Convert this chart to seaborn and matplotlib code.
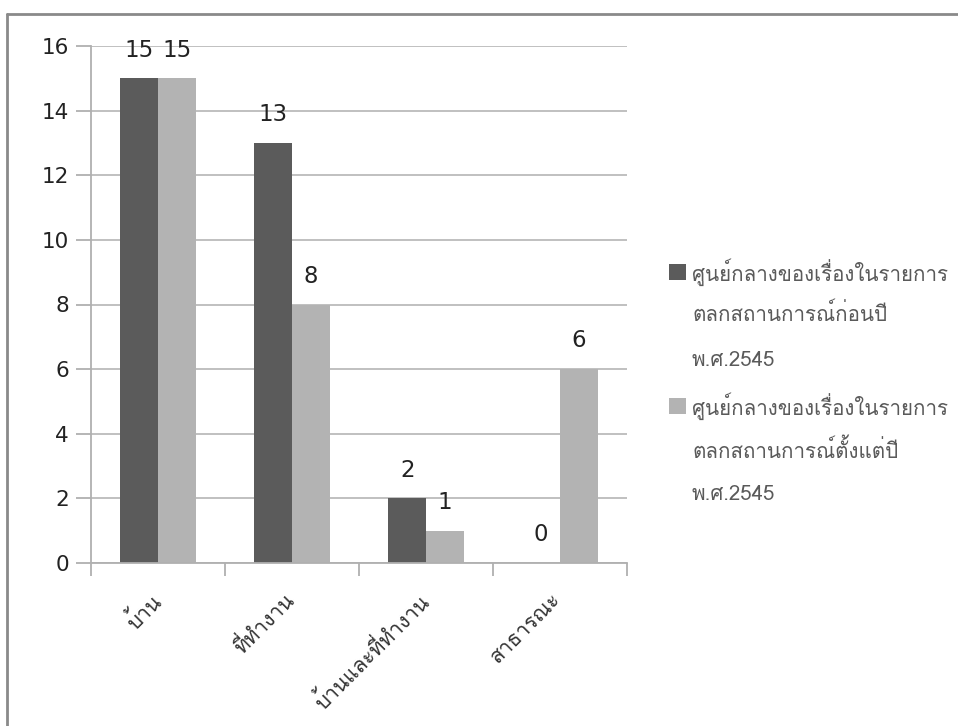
import matplotlib
matplotlib.use("Agg")
import matplotlib.pyplot as plt
from matplotlib import font_manager
from matplotlib.ft2font import FT2Font
from matplotlib.lines import Line2D
from matplotlib.patches import Rectangle
from matplotlib.transforms import ScaledTranslation
import seaborn as sns
import pandas as pd

categories = ["บ้าน", "ที่ทำงาน", "บ้านและที่ทำงาน", "สาธารณะ"]
series_names = [
    "ศูนย์กลางของเรื่องในรายการตลกสถานการณ์ก่อนปี พ.ศ.2545",
    "ศูนย์กลางของเรื่องในรายการตลกสถานการณ์ตั้งแต่ปี พ.ศ.2545",
]
legend_lines = [
    ["ศูนย์กลางของเรื่องในรายการ", "ตลกสถานการณ์ก่อนปี", "พ.ศ.2545"],
    ["ศูนย์กลางของเรื่องในรายการ", "ตลกสถานการณ์ตั้งแต่ปี", "พ.ศ.2545"],
]
before_2545 = [15, 13, 2, 0]
since_2545 = [15, 8, 1, 6]
colors = ["#5b5b5b", "#b3b3b3"]
y_ticks = [0, 2, 4, 6, 8, 10, 12, 14, 16]


def find_thai_font():
    for f in font_manager.fontManager.ttflist:
        try:
            ft = FT2Font(f.fname)
            if ft.get_char_index(0x0E01) and ft.get_char_index(0x0E49):
                return f.name
        except Exception:
            continue
    return "DejaVu Sans"


thai_font = find_thai_font()

df = pd.DataFrame({
    "category": categories * 2,
    "series": [series_names[0]] * 4 + [series_names[1]] * 4,
    "value": before_2545 + since_2545,
})

sns.set_style("white")
plt.rcParams["font.family"] = ["DejaVu Sans"]

fig = plt.figure(figsize=(9.58, 7.26), dpi=100)
ax = fig.add_axes([91 / 958, 163 / 726, 536 / 958, 517 / 726])

sns.barplot(data=df, x="category", y="value", hue="series", order=categories,
            hue_order=series_names, palette=colors, width=0.56, gap=0,
            saturation=1, legend=False, ax=ax, edgecolor="none")

for cont in ax.containers:
    ax.bar_label(cont, fmt="%d", padding=12, fontsize=16.5, color="#222222")

ax.set_ylim(0, 16)
ax.set_xlim(-0.5, 3.5)
ax.set_yticks(y_ticks)
ax.yaxis.grid(True, color="#bbbbbb", linewidth=1.3)
ax.set_axisbelow(True)
ax.set_xlabel("")
ax.set_ylabel("")

for side in ["top", "right"]:
    ax.spines[side].set_visible(False)
for side in ["left", "bottom"]:
    ax.spines[side].set_color("#b0b0b0")
    ax.spines[side].set_linewidth(1.3)

ax.tick_params(axis="y", direction="out", length=11, width=1.3, color="#b0b0b0",
               labelsize=15.5, labelcolor="#222222", pad=5, left=True)
ax.set_xticks([-0.5, 0.5, 1.5, 2.5, 3.5], minor=True)
ax.tick_params(axis="x", which="minor", direction="out", length=9, width=1.3,
               color="#b0b0b0", bottom=True)
ax.tick_params(axis="x", which="major", length=0, pad=19)
ax.set_xticks(range(len(categories)))
ax.set_xticklabels(categories, rotation=45, ha="right", rotation_mode="anchor",
                   fontsize=15, color="#333333", family=[thai_font, "DejaVu Sans"])
shift = ScaledTranslation(-0.09, 0.0, fig.dpi_scale_trans)
for lbl in ax.get_xticklabels():
    lbl.set_transform(lbl.get_transform() + shift)

# legend drawn as stacked lines beside the plot
legend_rows = [[272, 314, 360], [406, 450, 494]]
for i, lines in enumerate(legend_lines):
    rows = legend_rows[i]
    fig.patches.append(Rectangle((669 / 958, 1 - (rows[0] + 8) / 726), 17 / 958, 16 / 726,
                                 transform=fig.transFigure, facecolor=colors[i],
                                 edgecolor="none"))
    for line, y in zip(lines, rows):
        fig.text(692 / 958, 1 - y / 726, line, fontsize=14.8, color="#5a5a5a",
                 va="center", ha="left", family=[thai_font, "DejaVu Sans"])

# outer frame (top and left edges)
fig.add_artist(Line2D([7 / 958, 1], [1 - 14 / 726, 1 - 14 / 726],
                      transform=fig.transFigure, color="#8a8a8a", linewidth=2))
fig.add_artist(Line2D([7 / 958, 7 / 958], [0, 1 - 14 / 726],
                      transform=fig.transFigure, color="#8a8a8a", linewidth=2))

fig.savefig("out.png", dpi=100, facecolor="white")
